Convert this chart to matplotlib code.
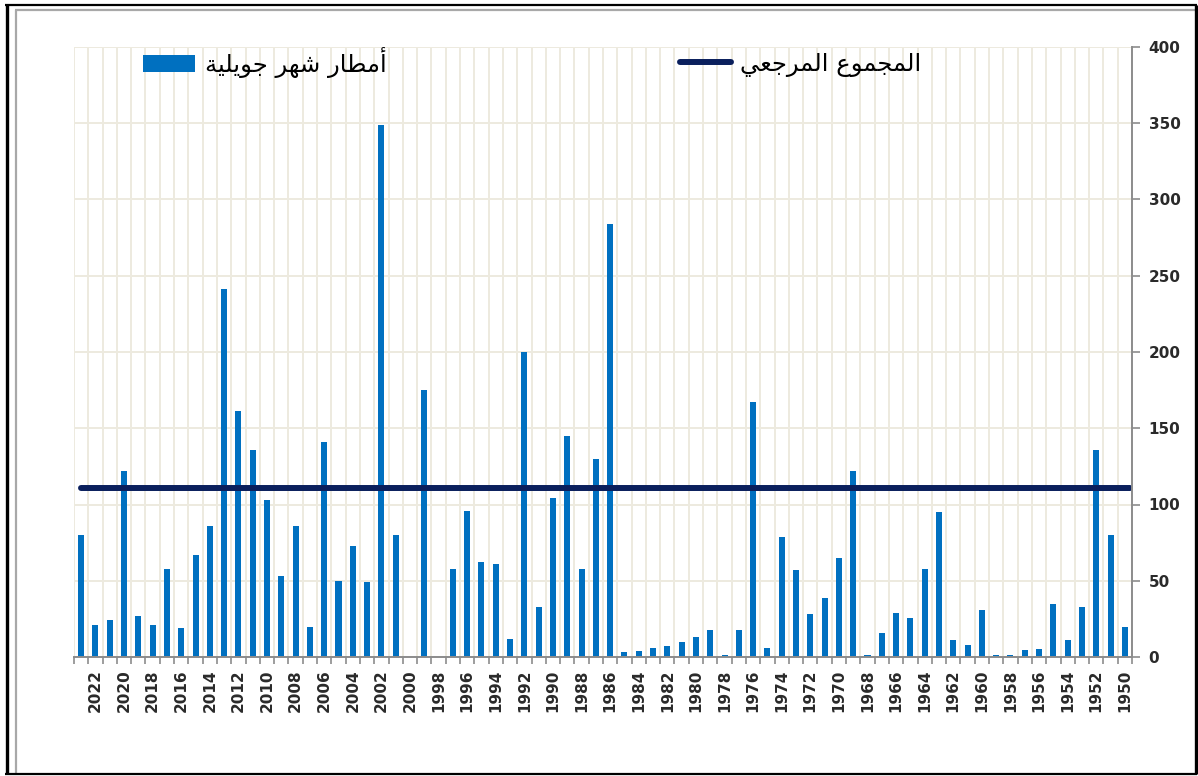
import matplotlib
matplotlib.use("Agg")
import matplotlib.pyplot as plt
from matplotlib.lines import Line2D
import numpy as np

# ---------------- data ----------------
years = list(range(2023, 1949, -1))
rain_july = [80, 21, 24, 122, 27, 21, 58, 19, 67, 86,
             241, 161, 136, 103, 53, 86, 20, 141, 50, 73,
             49, 349, 80, 0, 175, 0, 58, 96, 62, 61,
             12, 200, 33, 104, 145, 58, 130, 284, 3, 4,
             6, 7, 10, 13, 17.5, 1.5, 17.5, 167, 6, 79,
             57, 28, 38.5, 65, 122, 1.5, 16, 29, 25.5, 58,
             95, 11, 8, 30.5, 1.5, 1.5, 4.5, 5.5, 34.5, 11,
             33, 136, 80, 20]
reference_total = 111
label_bars = "أمطار شهر جويلية"
label_line = "المجموع المرجعي"
y_ticks = [0, 50, 100, 150, 200, 250, 300, 350, 400]
x_label_years = [y for y in years if y % 2 == 0]

# ---------------- minimal Arabic shaping (for display) ----------------
FORMS = {  # isolated, final, initial, medial
    'ا': (0xFE8D, 0xFE8E, None, None), 'أ': (0xFE83, 0xFE84, None, None),
    'إ': (0xFE87, 0xFE88, None, None), 'آ': (0xFE81, 0xFE82, None, None),
    'ب': (0xFE8F, 0xFE90, 0xFE91, 0xFE92), 'ة': (0xFE93, 0xFE94, None, None),
    'ت': (0xFE95, 0xFE96, 0xFE97, 0xFE98), 'ج': (0xFE9D, 0xFE9E, 0xFE9F, 0xFEA0),
    'ح': (0xFEA1, 0xFEA2, 0xFEA3, 0xFEA4), 'د': (0xFEA9, 0xFEAA, None, None),
    'ر': (0xFEAD, 0xFEAE, None, None), 'ز': (0xFEAF, 0xFEB0, None, None),
    'س': (0xFEB1, 0xFEB2, 0xFEB3, 0xFEB4), 'ش': (0xFEB5, 0xFEB6, 0xFEB7, 0xFEB8),
    'ط': (0xFEC1, 0xFEC2, 0xFEC3, 0xFEC4), 'ع': (0xFEC9, 0xFECA, 0xFECB, 0xFECC),
    'ل': (0xFEDD, 0xFEDE, 0xFEDF, 0xFEE0), 'م': (0xFEE1, 0xFEE2, 0xFEE3, 0xFEE4),
    'ن': (0xFEE5, 0xFEE6, 0xFEE7, 0xFEE8), 'ه': (0xFEE9, 0xFEEA, 0xFEEB, 0xFEEC),
    'و': (0xFEED, 0xFEEE, None, None), 'ي': (0xFEF1, 0xFEF2, 0xFEF3, 0xFEF4),
}


def shape_ar(s):
    out = []
    n = len(s)
    for i, c in enumerate(s):
        if c not in FORMS:
            out.append(c)
            continue
        f = FORMS[c]
        prev = s[i - 1] if i > 0 else None
        nxt = s[i + 1] if i < n - 1 else None
        pj = prev in FORMS and FORMS[prev][2] is not None
        nj = f[2] is not None and nxt in FORMS
        if pj and nj:
            cp = f[3]
        elif pj:
            cp = f[1]
        elif nj:
            cp = f[2]
        else:
            cp = f[0]
        out.append(chr(cp))
    return "".join(out)[::-1]


# ---------------- figure ----------------
W, H = 1198, 776
fig = plt.figure(figsize=(W / 100, H / 100), dpi=100)
fig.patch.set_facecolor("white")

ax = fig.add_axes([74 / W, 1 - 657 / H, (1132 - 74) / W, (657 - 47) / H])

grid_c = "#EDEADF"
axis_c = "#8C8C8C"
bar_c = "#0070C0"
line_c = "#0A1F5C"
tick_c = "#2A2A2A"

bars = ax.bar(years, rain_july, width=0.42, color=bar_c, zorder=3,
              label=shape_ar(label_bars))
ref_line, = ax.plot([years[0], years[-1] - 0.35],
                    [reference_total, reference_total],
                    color=line_c, lw=4.3, solid_capstyle="round", zorder=4,
                    label=shape_ar(label_line))

ax.set_xlim(years[0] + 0.5, years[-1] - 0.5)
ax.set_ylim(0, 400)

# x ticks: labels at even-year bars, minor ticks / grid at category edges
ax.set_xticks(x_label_years)
ax.set_xticklabels([str(y) for y in x_label_years], rotation=90,
                   fontsize=11, fontweight="bold", color=tick_c,
                   family="DejaVu Sans")
ax.set_xticks([y + 0.5 for y in years] + [years[-1] - 0.5], minor=True)
ax.tick_params(axis="x", which="major", length=0, pad=9)
ax.tick_params(axis="x", which="minor", length=5, color=axis_c, width=1.2)
ax.grid(axis="x", which="minor", color=grid_c, lw=1.4, zorder=0)

# y axis on the right
ax.yaxis.tick_right()
ax.set_yticks(y_ticks)
ax.set_yticklabels([str(v) for v in y_ticks], fontsize=11, fontweight="bold",
                   color=tick_c)
ax.tick_params(axis="y", which="major", length=6, color=axis_c, width=1.2, pad=6)
ax.grid(axis="y", which="major", color=grid_c, lw=1.4, zorder=0)

for s in ("left", "top"):
    ax.spines[s].set_visible(False)
for s in ("right", "bottom"):
    ax.spines[s].set_color(axis_c)
    ax.spines[s].set_linewidth(1.4)
    ax.spines[s].set_zorder(5)

# legends
fs = 17.5
fs_px = fs * 100 / 72
leg1 = ax.legend(handles=[bars], labels=[shape_ar(label_bars)],
                 loc="upper left", bbox_to_anchor=(143 / W, 1 - 47 / H),
                 bbox_transform=fig.transFigure, frameon=False,
                 borderpad=0, borderaxespad=0,
                 handlelength=52 / fs_px, handleheight=17 / fs_px,
                 handletextpad=10 / fs_px,
                 prop={"family": "DejaVu Sans", "size": fs})
ax.add_artist(leg1)
leg2 = ax.legend(handles=[ref_line], labels=[shape_ar(label_line)],
                 loc="upper left", bbox_to_anchor=(680 / W, 1 - 52 / H),
                 bbox_transform=fig.transFigure, frameon=False,
                 borderpad=0, borderaxespad=0,
                 handlelength=51 / fs_px, handleheight=17 / fs_px,
                 handletextpad=9 / fs_px,
                 prop={"family": "DejaVu Sans", "size": fs})

# outer frame
def px_line(x0, y0, x1, y1, color, lw):
    fig.add_artist(Line2D([x0 / W, x1 / W], [1 - y0 / H, 1 - y1 / H],
                          transform=fig.transFigure, color=color, lw=lw,
                          solid_capstyle="butt"))

px_line(15.5, 10, 15.5, 773, "#A8A8A8", 1.6)
px_line(15, 10, 1196, 10, "#A8A8A8", 1.6)
px_line(6.5, 4.5, 6.5, 774, "black", 2.4)
px_line(5, 5, 1197, 5, "black", 1.6)
px_line(1196, 4.5, 1196, 774, "black", 2.4)
px_line(5, 773.5, 1197, 773.5, "black", 1.6)

fig.savefig("out.png", dpi=100)
